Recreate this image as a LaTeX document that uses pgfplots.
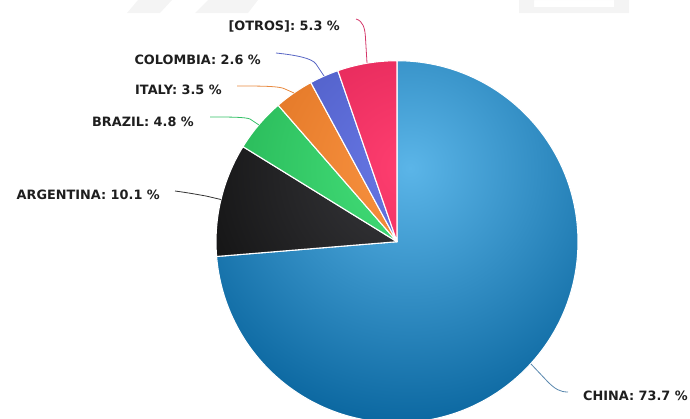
\documentclass[border=0pt]{standalone}
\usepackage{pgfplots}
\usepackage{pgfplotstable}
\pgfplotsset{compat=1.18}
\usepackage{fontspec}
\setmainfont{DejaVu Sans}

\definecolor{in0}{HTML}{5BB5E8}\definecolor{out0}{HTML}{0B67A0}
\definecolor{in1}{HTML}{3A3A3E}\definecolor{out1}{HTML}{0E0E0E}
\definecolor{in2}{HTML}{46E27C}\definecolor{out2}{HTML}{1EAA4C}
\definecolor{in3}{HTML}{FA9442}\definecolor{out3}{HTML}{D66818}
\definecolor{in4}{HTML}{6878E6}\definecolor{out4}{HTML}{4250B4}
\definecolor{in5}{HTML}{FF3F70}\definecolor{out5}{HTML}{D0184A}
\definecolor{lc0}{HTML}{5A88AE}
\definecolor{lc1}{HTML}{333333}
\definecolor{lc2}{HTML}{33C066}
\definecolor{lc3}{HTML}{E88A40}
\definecolor{lc4}{HTML}{5866C4}
\definecolor{lc5}{HTML}{D4386A}
\definecolor{labc}{HTML}{1E1E1E}
\definecolor{wm}{HTML}{F4F4F4}

% share of each country (%), clockwise from 12 o'clock
\pgfplotstableread{
name pct
CHINA 73.7
ARGENTINA 10.1
BRAZIL 4.8
ITALY 3.5
COLOMBIA 2.6
OTROS 5.3
}\piedata

\begin{document}
\begin{tikzpicture}
\begin{axis}[
  x=1bp, y=1bp, y dir=reverse,
  xmin=0, xmax=690, ymin=0, ymax=419,
  hide axis, clip=false,
  anchor=north west, at={(0,0)},
]
% faint watermark
\fill[wm] (axis cs:127,13) -- (axis cs:138,0) -- (axis cs:172,0) -- (axis cs:160,13) -- cycle;
\fill[wm] (axis cs:195,13) -- (axis cs:208,0) -- (axis cs:258,0) -- (axis cs:248,13) -- cycle;
\fill[wm,even odd rule] (axis cs:519,0) -- (axis cs:629,0) -- (axis cs:629,13) -- (axis cs:519,13) -- cycle
   (axis cs:534,0) -- (axis cs:614,0) -- (axis cs:614,7) -- (axis cs:534,7) -- cycle;

\coordinate (C) at (axis cs:397,241.7);
\coordinate (G) at (axis cs:410,168);
\gdef\startang{90}
\pgfplotsforeachungrouped \i in {0,...,5}{%
  \pgfplotstablegetelem{\i}{pct}\of\piedata
  \pgfmathsetmacro\endang{\startang-3.6*\pgfplotsretval}%
  \edef\temp{\noexpand\path[path picture={\noexpand\shade[inner color=in\i,outer color=out\i] (G) circle (258bp);}, draw=white, line width=1.1bp, line join=round] (C) -- ++(\startang:181bp) arc[start angle=\startang, end angle=\endang, radius=181bp] -- cycle;}%
  \temp
  \global\let\startang\endang
}

% connectors
\draw[lc5, line width=0.8bp] (axis cs:356,19) .. controls (axis cs:363,21) and (axis cs:365,28) .. (axis cs:365.5,38) -- (axis cs:367,63);
\draw[lc4, line width=0.8bp] (axis cs:276,53) .. controls (axis cs:295,55) and (axis cs:312,58) .. (axis cs:316,64) -- (axis cs:324,76);
\draw[lc3, line width=0.8bp] (axis cs:237,86) .. controls (axis cs:260,86) and (axis cs:280,86) .. (axis cs:285,89) -- (axis cs:294,93);
\draw[lc2, line width=0.8bp] (axis cs:210,117) .. controls (axis cs:230,117) and (axis cs:245,117) .. (axis cs:250,119) -- (axis cs:259,125);
\draw[lc1, line width=0.8bp] (axis cs:175,191) .. controls (axis cs:190,193) and (axis cs:200,195) .. (axis cs:206,196) -- (axis cs:221,199.5);
\draw[lc0, line width=0.8bp] (axis cs:531,364) -- (axis cs:548,382) .. controls (axis cs:555,389) and (axis cs:560,392) .. (axis cs:568,392);

% labels
\tikzset{lab/.style={inner sep=0pt, text=labc, font=\bfseries\fontsize{12.9}{14}\selectfont}}
\node[lab, anchor=base east] at (axis cs:340,30.5) {[OTROS]: 5.3 \%};
\node[lab, anchor=base east] at (axis cs:261,64) {COLOMBIA: 2.6 \%};
\node[lab, anchor=base east] at (axis cs:222,94) {ITALY: 3.5 \%};
\node[lab, anchor=base east] at (axis cs:194,126) {BRAZIL: 4.8 \%};
\node[lab, anchor=base east] at (axis cs:160,199.5) {ARGENTINA: 10.1 \%};
\node[lab, anchor=base west] at (axis cs:583,400) {CHINA: 73.7 \%};
\end{axis}
\pgfresetboundingbox
\path[use as bounding box] (0,0) rectangle (690bp,-419bp);
\end{tikzpicture}
\end{document}
